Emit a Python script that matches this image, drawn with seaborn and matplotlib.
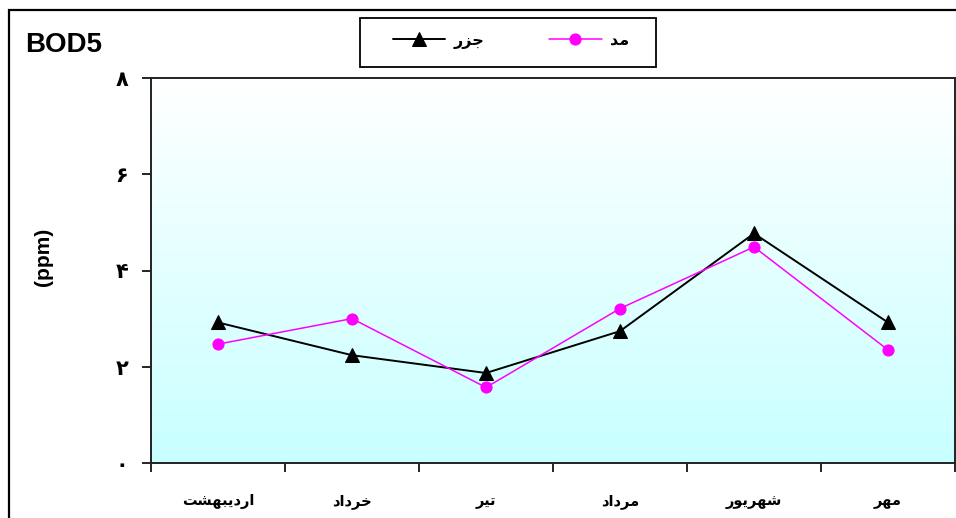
import numpy as np
import pandas as pd
import matplotlib
matplotlib.use("Agg")
import matplotlib.pyplot as plt
import seaborn as sns
from matplotlib.patches import Rectangle
from matplotlib.colors import LinearSegmentedColormap

# ---------------- data ----------------
months = ['اردیبهشت', 'خرداد', 'تیر', 'مرداد', 'شهریور', 'مهر']
ebb = [2.92, 2.24, 1.87, 2.74, 4.77, 2.92]     # جزر
flood = [2.47, 3.00, 1.57, 3.21, 4.49, 2.35]   # مد
series_names = ['جزر', 'مد']
yticks = [0, 2, 4, 6, 8]
ytick_labels = ['۰', '۲', '۴', '۶', '۸']
title = 'BOD5'
ylabel = '(ppm)'

# ---------------- minimal Arabic/Persian shaping (visual order) ----------------
FORMS = {
    'ا': ('\uFE8D', '\uFE8E', None, None),
    'ب': ('\uFE8F', '\uFE90', '\uFE91', '\uFE92'),
    'ت': ('\uFE95', '\uFE96', '\uFE97', '\uFE98'),
    'ج': ('\uFE9D', '\uFE9E', '\uFE9F', '\uFEA0'),
    'خ': ('\uFEA5', '\uFEA6', '\uFEA7', '\uFEA8'),
    'د': ('\uFEA9', '\uFEAA', None, None),
    'ر': ('\uFEAD', '\uFEAE', None, None),
    'ز': ('\uFEAF', '\uFEB0', None, None),
    'ش': ('\uFEB5', '\uFEB6', '\uFEB7', '\uFEB8'),
    'م': ('\uFEE1', '\uFEE2', '\uFEE3', '\uFEE4'),
    'ه': ('\uFEE9', '\uFEEA', '\uFEEB', '\uFEEC'),
    'و': ('\uFEED', '\uFEEE', None, None),
    'ی': ('\uFBFC', '\uFBFD', '\uFBFE', '\uFBFF'),
}


def shape(s):
    chars = list(s)

    def dual(c):
        return c in FORMS and FORMS[c][2] is not None

    out = []
    for i, c in enumerate(chars):
        if c not in FORMS:
            out.append(c)
            continue
        prev_j = i > 0 and dual(chars[i - 1])
        next_j = dual(c) and i + 1 < len(chars) and chars[i + 1] in FORMS
        iso, fin, ini, med = FORMS[c]
        if prev_j and next_j:
            out.append(med)
        elif prev_j:
            out.append(fin)
        elif next_j:
            out.append(ini)
        else:
            out.append(iso)
    return ''.join(reversed(out))


# ---------------- figure ----------------
sns.set_style("white")
plt.rcParams['font.family'] = ['DejaVu Sans']
plt.rcParams['text.color'] = 'black'
plt.rcParams['xtick.color'] = 'black'
plt.rcParams['ytick.color'] = 'black'
plt.rcParams['xtick.labelcolor'] = 'black'
plt.rcParams['ytick.labelcolor'] = 'black'

W, H = 956, 518
fig = plt.figure(figsize=(W / 100, H / 100), dpi=100)
fig.patch.set_facecolor('white')
ax = fig.add_axes([151 / W, (H - 463) / H, (955 - 151) / W, (463 - 78) / H])

# gradient background: white at top, light cyan at bottom
cmap = LinearSegmentedColormap.from_list('bg', ['#ffffff', '#c8ffff'])
grad = np.linspace(0, 1, 256).reshape(-1, 1)   # row 0 = top (white)
ax.imshow(grad, extent=[0, 1, 0, 1], origin='upper', transform=ax.transAxes,
          cmap=cmap, aspect='auto', zorder=0, interpolation='bicubic')

df = pd.DataFrame({'month': months, 'ebb': ebb, 'flood': flood})
sns.lineplot(data=df, x='month', y='ebb', color='black', marker='^',
             markersize=10, markeredgecolor='black', linewidth=1.4,
             label=shape(series_names[0]), ax=ax, zorder=3, sort=False)
sns.lineplot(data=df, x='month', y='flood', color='#ff00ff', marker='o',
             markersize=8, markeredgecolor='#ff00ff', linewidth=1.1,
             label=shape(series_names[1]), ax=ax, zorder=3, sort=False)

ax.set_xlim(-0.5, len(months) - 0.5)
ax.set_ylim(0, 8)
ax.set_xlabel('')
ax.set_ylabel('')

ax.set_xticks(range(len(months)))
ax.set_xticklabels([shape(m) for m in months], fontsize=10.5, fontweight='bold',
                   family='DejaVu Sans', color='black')
ax.set_xticks(np.arange(-0.5, len(months), 1), minor=True)
ax.tick_params(axis='x', which='major', length=0, pad=22)
ax.tick_params(axis='x', which='minor', length=6.5, width=1.2, color='black',
               direction='out', bottom=True)

ax.set_yticks(yticks)
ax.set_yticklabels(ytick_labels, fontsize=15, fontweight='bold',
                   family='DejaVu Sans', color='black')
ax.tick_params(axis='y', length=6.5, width=1.2, color='black', pad=10,
               direction='out', left=True)

for sp in ax.spines.values():
    sp.set_visible(True)
    sp.set_color('#222222')
    sp.set_linewidth(1.4)

# legend
ax.get_legend().remove()
handles, labels = ax.get_legend_handles_labels()
fig.add_artist(Rectangle((360 / W, 1 - 67 / H), 296 / W, 49 / H,
                         transform=fig.transFigure, facecolor='white',
                         edgecolor='black', linewidth=1.3))
leg = fig.legend(handles, labels, loc='center',
                 bbox_to_anchor=(511 / W, 1 - 41 / H), ncol=2,
                 frameon=False, handlelength=3.3, handletextpad=0.55,
                 columnspacing=4.0, labelcolor='black',
                 prop={'family': 'DejaVu Sans', 'weight': 'bold', 'size': 11.5})

# title and y label
fig.text(25 / W, 1 - 52 / H, title, ha='left', va='baseline', fontsize=20,
         fontweight='bold', family='Liberation Sans', color='black')
fig.text(44 / W, 1 - 257 / H, ylabel, ha='center', va='center', rotation=90,
         fontsize=15, fontweight='bold', family='Liberation Sans', color='black')

# outer frame
fig.add_artist(Rectangle((9 / W, -0.2), 1.2, 1.2 - 10 / H,
                         transform=fig.transFigure, fill=False,
                         edgecolor='black', linewidth=1.6, clip_on=False))

fig.savefig('out.png', dpi=100)
